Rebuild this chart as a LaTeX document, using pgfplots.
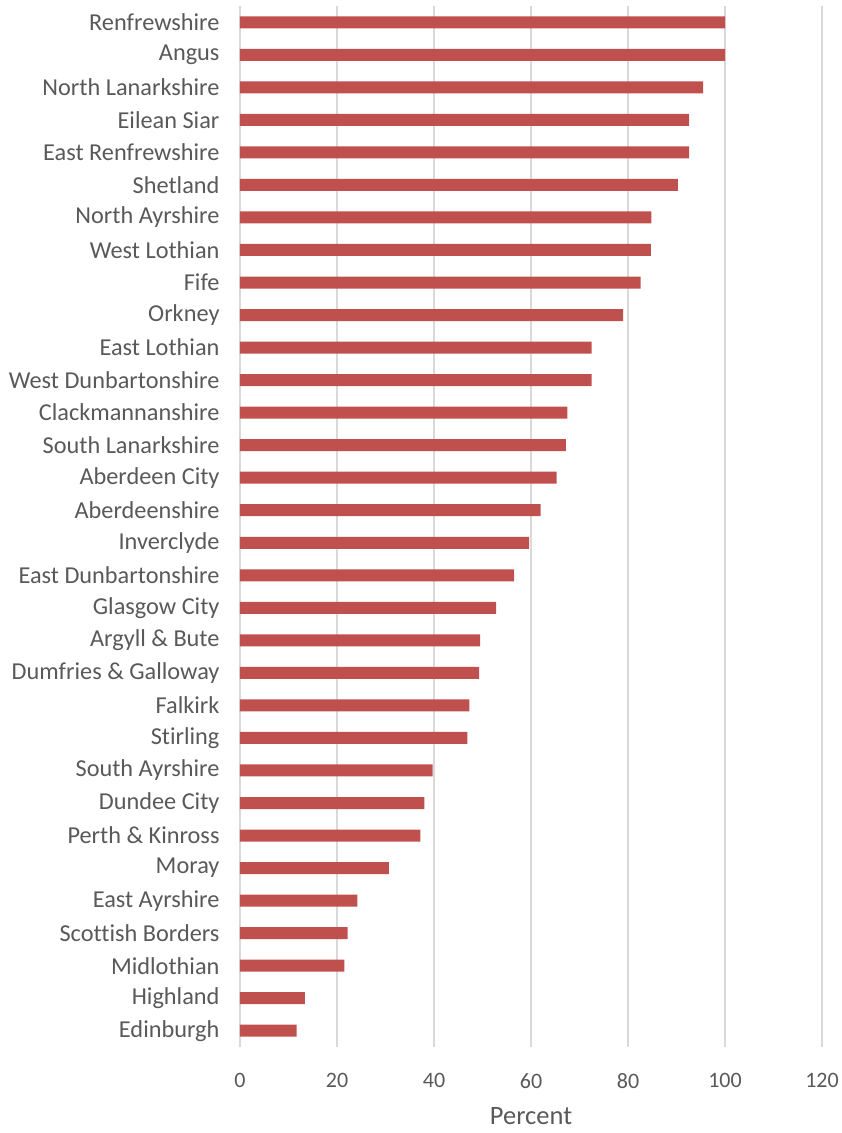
\documentclass[border=0pt]{standalone}
\usepackage{pgfplots}
\pgfplotsset{compat=1.18}
\usepackage{fontspec}
\setmainfont{Carlito}[Ligatures=NoCommon]
\definecolor{barred}{HTML}{C0504D}
\definecolor{gridgray}{HTML}{D9D9D9}
\definecolor{txtgray}{HTML}{595959}
\begin{document}
\begin{tikzpicture}
\useasboundingbox (-240bp,-86bp) rectangle (602bp,1047bp);
\begin{axis}[
  at={(0,0)}, anchor=south west,
  scale only axis,
  width=582bp, height=1041bp,
  xbar, bar width=12bp,
  xmin=0, xmax=120, xtick={0,20,...,120},
  ymin=-0.5, ymax=31.5,
  ytick={0,...,31},
  yticklabels={Edinburgh,Highland,Midlothian,Scottish Borders,East Ayrshire,Moray,Perth \& Kinross,Dundee City,South Ayrshire,Stirling,Falkirk,Dumfries \& Galloway,Argyll \& Bute,Glasgow City,East Dunbartonshire,Inverclyde,Aberdeenshire,Aberdeen City,South Lanarkshire,Clackmannanshire,West Dunbartonshire,East Lothian,Orkney,Fife,West Lothian,North Ayrshire,Shetland,East Renfrewshire,Eilean Siar,North Lanarkshire,Angus,Renfrewshire},
  axis line style={draw=none},
  major tick length=0pt,
  xmajorgrids, grid style={gridgray, line width=1.2bp},
  tick label style={text=txtgray},
  yticklabel style={font=\fontsize{24.3bp}{28bp}\selectfont, xshift=-17bp},
  xticklabel style={font=\fontsize{22bp}{26bp}\selectfont, yshift=-23bp},
  /pgf/number format/assume math mode=true,
  xlabel={Percent},
  xlabel style={font=\fontsize{26.5bp}{30bp}\selectfont, text=txtgray, yshift=-14bp, inner sep=1bp},
]
\addplot[fill=barred, draw=none] coordinates {
(11.7,0) (13.4,1) (21.5,2) (22.2,3) (24.2,4) (30.7,5) (37.2,6) (38.0,7) (39.7,8) (46.9,9) (47.3,10)
(49.3,11) (49.5,12) (52.8,13) (56.5,14) (59.6,15) (62.0,16) (65.3,17) (67.2,18) (67.5,19) (72.5,20)
(72.5,21) (79.0,22) (82.6,23) (84.7,24) (84.8,25) (90.3,26) (92.6,27) (92.6,28) (95.5,29) (100.0,30) (100.0,31)
};
\end{axis}
\end{tikzpicture}
\end{document}
